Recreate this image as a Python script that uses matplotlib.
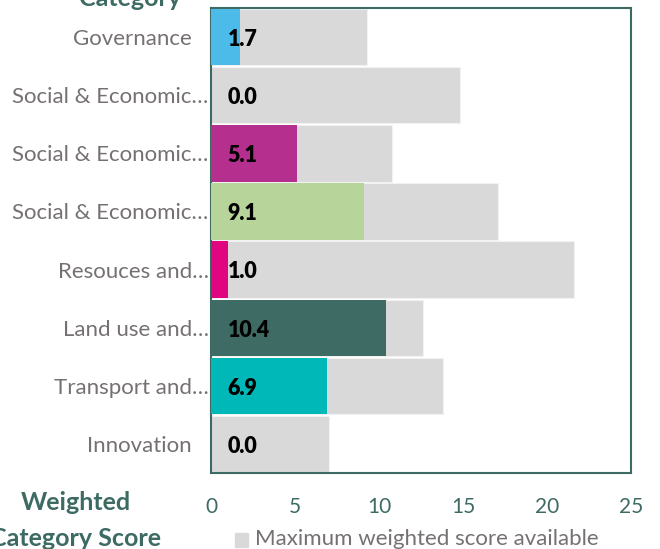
import matplotlib
matplotlib.use("Agg")
import matplotlib.pyplot as plt
from matplotlib.patches import Rectangle
from matplotlib.transforms import ScaledTranslation

categories = ["Governance", "Social & Economic…", "Social & Economic…", "Social & Economic…",
              "Resouces and…", "Land use and…", "Transport and…", "Innovation"]
scores = [1.7, 0.0, 5.1, 9.1, 1.0, 10.4, 6.9, 0.0]
max_scores = [9.3, 14.8, 10.8, 17.1, 21.6, 12.6, 13.8, 7.0]
colors = ["#4dbbea", "#d9d9d9", "#b5308e", "#b7d59b", "#e0067f", "#3f6b65", "#00b8b8", "#d9d9d9"]
xticks = [0, 5, 10, 15, 20, 25]

teal = "#3d6b64"
grey_txt = "#767171"
plt.rcParams['font.family'] = ['Lato', 'DejaVu Sans']

fig = plt.figure(figsize=(6.6, 5.49), dpi=100)
ax = fig.add_axes([0.3197, 0.1384, 0.6364, 0.847])

n = len(categories)
ypos = list(range(n))[::-1]
ax.barh(ypos, max_scores, height=0.97, color="#d9d9d9", edgecolor="#f2f2f2", linewidth=0.8, zorder=2)
ax.barh(ypos, scores, height=0.97, color=colors, edgecolor="none", zorder=3)
for y, s in zip(ypos, scores):
    ax.text(1.0, y - 0.04, f"{s:.1f}", ha="left", va="center", fontsize=15.5,
            fontweight="heavy", color="black", zorder=4)

ax.set_xlim(0, 25)
ax.set_ylim(-0.5, n - 0.5)
ax.set_yticks(ypos)
ax.set_yticklabels(categories, fontsize=16, color=grey_txt)
ax.set_xticks(xticks)
ax.set_xticklabels([str(t) for t in xticks], fontsize=15, color=teal)
ax.tick_params(length=0)
ax.tick_params(axis='y', pad=14)
ax.tick_params(axis='x', pad=17)
for lbl in ax.get_yticklabels():
    if lbl.get_text().endswith("…"):
        lbl.set_transform(lbl.get_transform() + ScaledTranslation(0.17, 0, fig.dpi_scale_trans))
for sp in ax.spines.values():
    sp.set_color(teal)
    sp.set_linewidth(1.5)

fig.text(130 / 660, 1 + 2 / 549, "Category", ha="center", va="center", fontsize=18,
         fontweight="bold", color=teal)
fig.text(76 / 660, 1 - 503 / 549, "Weighted", ha="center", va="center", fontsize=18,
         fontweight="bold", color=teal)
fig.text(76 / 660, 1 - 538 / 549, "Category Score", ha="center", va="center", fontsize=18,
         fontweight="bold", color=teal)

fig.patches.append(Rectangle((235 / 660, 1 - 547 / 549), 13 / 660, 14 / 549,
                             transform=fig.transFigure, color="#d9d9d9"))
fig.text(255 / 660, 1 - 539 / 549, "Maximum weighted score available", ha="left", va="center",
         fontsize=16, color=grey_txt)

fig.savefig("out.png", dpi=100)
